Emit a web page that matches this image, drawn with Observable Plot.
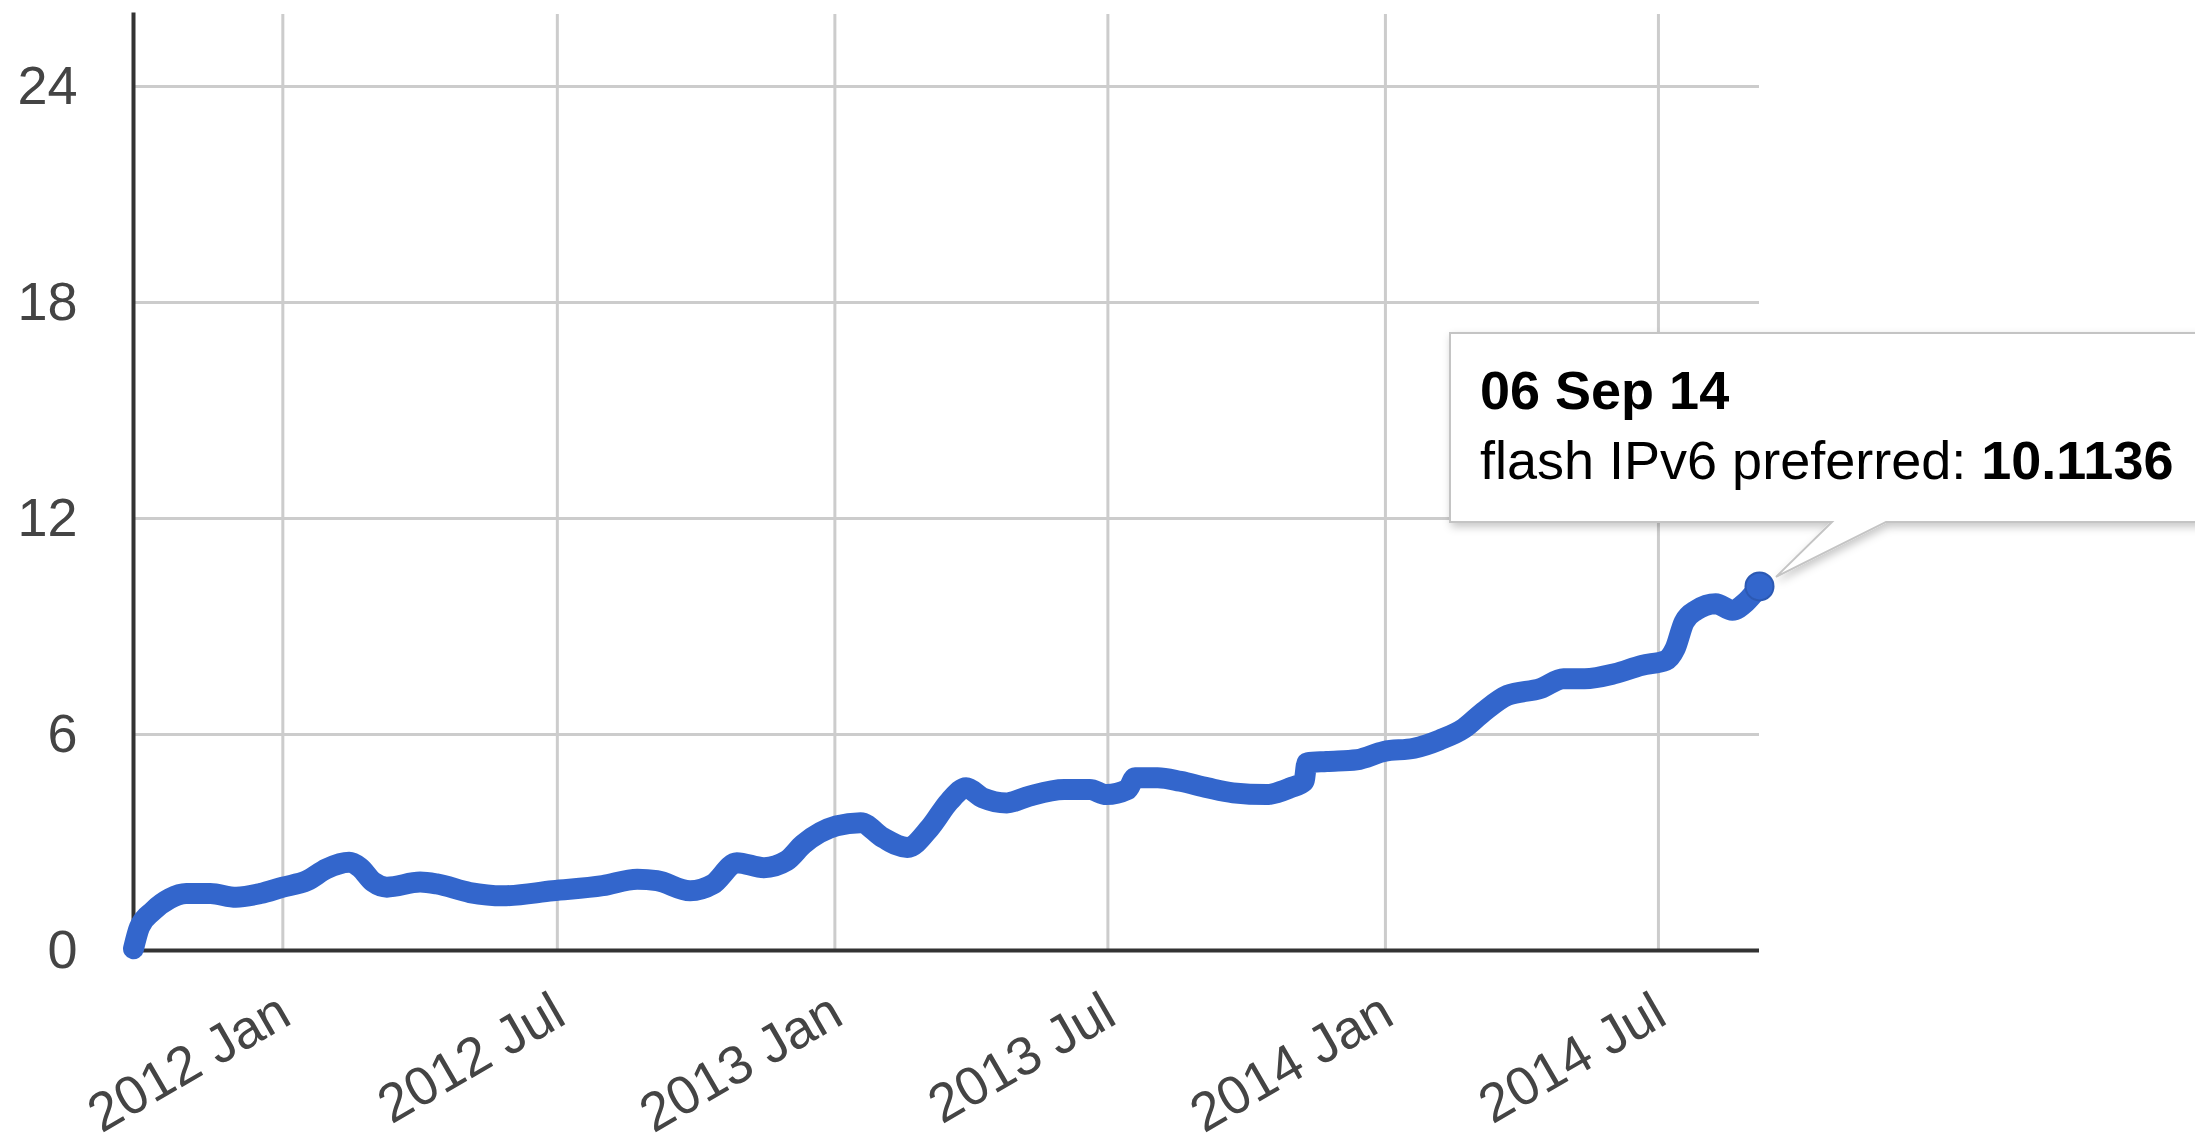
<!DOCTYPE html>
<html>
<head>
<meta charset="utf-8">
<script src="https://cdn.jsdelivr.net/npm/d3@7"></script>
<script src="https://cdn.jsdelivr.net/npm/@observablehq/plot@0.6"></script>
<style>
  html, body { margin: 0; padding: 0; background: #fff; overflow: hidden; }
</style>
</head>
<body>
<div id="chart"></div>
<script>
// ---- Data ----
const dates = [
  "2011-09-24","2011-09-28","2011-10-07","2011-10-18","2011-10-29","2011-11-14","2011-12-01","2011-12-17",
  "2012-01-01","2012-01-17","2012-01-30","2012-02-14","2012-02-21","2012-03-01","2012-03-10","2012-04-01",
  "2012-04-12","2012-05-04","2012-05-26","2012-06-28","2012-07-31","2012-08-23","2012-09-05","2012-09-27",
  "2012-10-12","2012-10-28","2012-11-15","2012-11-30","2012-12-11","2013-01-02","2013-01-18","2013-02-02",
  "2013-02-18","2013-03-05","2013-03-18","2013-03-29","2013-04-09","2013-04-25","2013-05-10","2013-06-02",
  "2013-06-19","2013-06-30","2013-07-14","2013-07-19","2013-08-03","2013-08-18","2013-09-05","2013-09-22",
  "2013-10-14","2013-10-30","2013-11-08","2013-11-10","2013-11-23","2013-12-13","2013-12-31","2014-01-20",
  "2014-02-06","2014-02-22","2014-03-07","2014-03-23","2014-04-14","2014-04-29","2014-05-13","2014-06-02",
  "2014-06-20","2014-07-06","2014-07-12","2014-07-18","2014-07-26","2014-08-08","2014-08-19","2014-08-28",
  "2014-09-06"
];
const values = [
  0.05, 0.65, 1.10, 1.44, 1.58, 1.58, 1.48, 1.58,
  1.76, 1.94, 2.27, 2.45, 2.31, 1.90, 1.76, 1.90,
  1.85, 1.61, 1.52, 1.66, 1.80, 1.98, 1.94, 1.66,
  1.84, 2.44, 2.30, 2.49, 2.95, 3.46, 3.55, 3.13,
  2.86, 3.41, 4.15, 4.52, 4.24, 4.10, 4.29, 4.47,
  4.47, 4.33, 4.47, 4.80, 4.80, 4.70, 4.52, 4.38,
  4.33, 4.52, 4.70, 5.21, 5.25, 5.30, 5.53, 5.62,
  5.85, 6.17, 6.63, 7.09, 7.28, 7.55, 7.55, 7.69,
  7.92, 8.06, 8.38, 9.12, 9.45, 9.63, 9.45, 9.68,
  10.1136
];
const yTicks = [0, 6, 12, 18, 24];
const xTickDates = ["2012-01-01", "2012-07-01", "2013-01-01", "2013-07-01", "2014-01-01", "2014-07-01"];
const xTickLabels = ["2012 Jan", "2012 Jul", "2013 Jan", "2013 Jul", "2014 Jan", "2014 Jul"];
const seriesName = "flash IPv6 preferred";
const tipDateLabel = "06 Sep 14";
const tipValueLabel = "10.1136";

// ---- Build ----
const parse = d3.utcParse("%Y-%m-%d");
const data = dates.map((d, i) => ({date: parse(d), value: values[i]}));
const xTicks = xTickDates.map((d, i) => ({date: parse(d), label: xTickLabels[i]}));
const last = data[data.length - 1];

const FONT = "'Liberation Sans', Arial, Helvetica, sans-serif";
const BLUE = "#3366cc";

const plot = Plot.plot({
  width: 2195,
  height: 1141,
  marginLeft: 133,
  marginRight: 436,
  marginTop: 14,
  marginBottom: 191,
  style: {fontFamily: FONT, fontSize: "54px", background: "#fff", color: "#444", overflow: "visible"},
  x: {type: "utc", domain: [data[0].date, last.date], axis: null},
  y: {domain: [0, 26], axis: null},
  marks: [
    Plot.gridX(xTicks.map(d => d.date), {stroke: "#cccccc", strokeOpacity: 1, strokeWidth: 3}),
    Plot.gridY(yTicks.filter(v => v > 0), {stroke: "#cccccc", strokeOpacity: 1, strokeWidth: 3}),
    Plot.axisY(yTicks, {tickSize: 0, tickPadding: 56, fontSize: 54, label: null, fill: "#444"}),
    Plot.text(xTicks, {
      x: "date", y: () => 0, text: "label",
      rotate: -30, textAnchor: "end", lineAnchor: "bottom",
      dx: 11, dy: 72, fontSize: 54, fill: "#444"
    }),
    Plot.frame({anchor: "left", stroke: "#333", strokeWidth: 4}),
    Plot.ruleY([0], {stroke: "#333", strokeWidth: 4}),
    Plot.line(data, {x: "date", y: "value", stroke: BLUE, strokeWidth: 21, curve: "monotone-x", strokeLinejoin: "round", strokeLinecap: "round"}),
    Plot.dot([last], {x: "date", y: "value", r: 14, fill: BLUE, stroke: "#2c59b3", strokeWidth: 2})
  ]
});

document.getElementById("chart").appendChild(plot);

// ---- Tooltip annotation positioned from the plot's own scales ----
const px = plot.scale("x").apply(last.date);
const py = plot.scale("y").apply(last.value);
const svg = d3.select(plot);

const defs = svg.append("defs");
const filt = defs.append("filter").attr("id", "tipShadow")
  .attr("x", "-10%").attr("y", "-10%").attr("width", "130%").attr("height", "140%");
filt.append("feDropShadow").attr("dx", 2).attr("dy", 4).attr("stdDeviation", 4)
  .attr("flood-color", "#000").attr("flood-opacity", 0.22);

const bx = px - 309, by = py - 253, bb = py - 64, bw = 900;
const t1 = px + 73, t2 = px + 127, tipX = px + 17, tipY = py - 9;
const g = svg.append("g").attr("text-anchor", "start");
g.append("path")
  .attr("d", `M${bx},${by}H${bx + bw}V${bb}H${t2}L${tipX},${tipY}L${t1},${bb}H${bx}Z`)
  .attr("fill", "#fff")
  .attr("stroke", "#c4c4c4")
  .attr("stroke-width", 2)
  .attr("filter", "url(#tipShadow)");

g.append("text")
  .attr("x", bx + 30).attr("y", py - 177)
  .attr("text-anchor", "start")
  .attr("font-family", FONT).attr("font-size", 54).attr("font-weight", "bold").attr("fill", "#000")
  .text(tipDateLabel);

const t2el = g.append("text")
  .attr("x", bx + 30).attr("y", py - 107)
  .attr("text-anchor", "start")
  .attr("font-family", FONT).attr("font-size", 54).attr("fill", "#000");
t2el.append("tspan").text(seriesName + ": ");
t2el.append("tspan").attr("font-weight", "bold").text(tipValueLabel);
</script>
</body>
</html>
